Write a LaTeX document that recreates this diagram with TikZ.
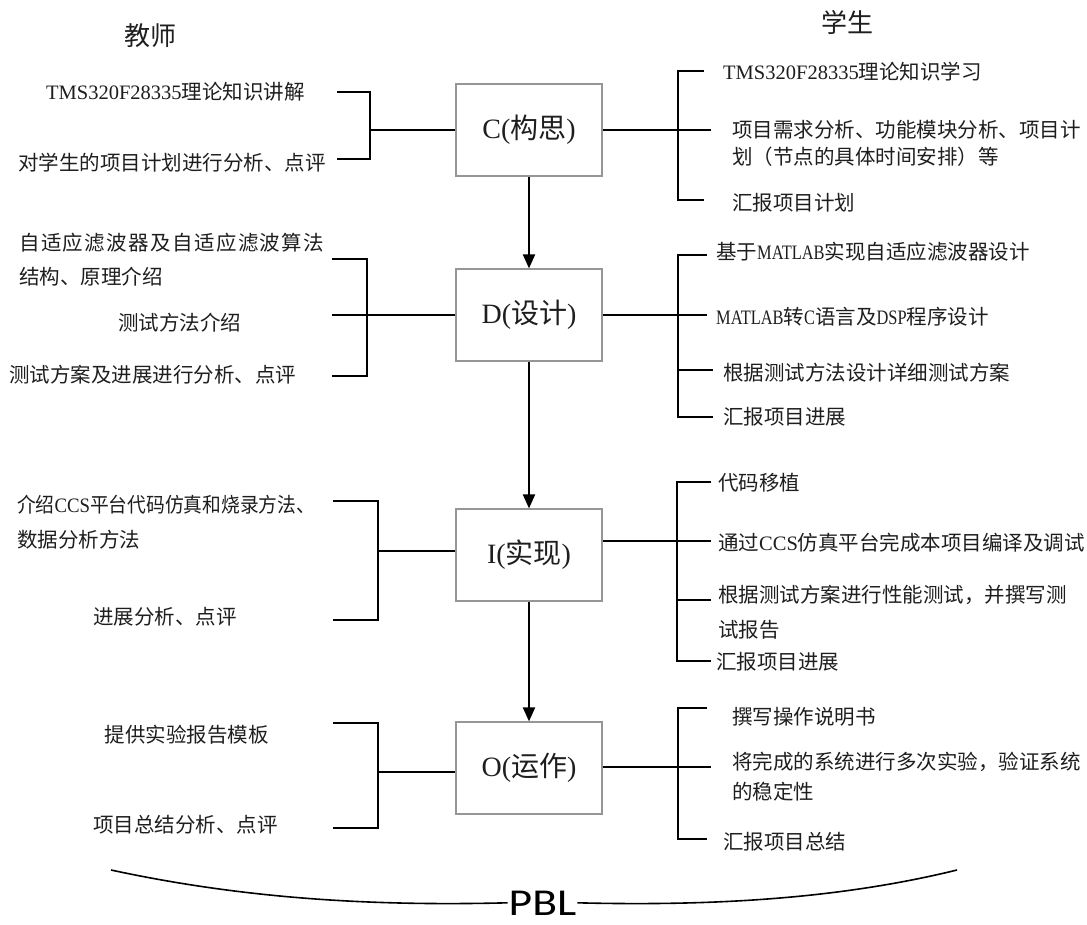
\documentclass[tikz,border=0pt]{standalone}
\usepackage{fontspec}
\usepackage{graphicx}
\setmainfont{Liberation Serif}
\newfontfamily\cjkfont{Noto Sans CJK SC}
\newfontfamily\pblfont{Carlito}
\usetikzlibrary{arrows.meta}
\newcommand\latn[1]{{\rmfamily #1}}
\newcommand\latc[1]{\scalebox{0.8}[1]{\rmfamily #1}}
\definecolor{boxgray}{RGB}{150,150,150}
\definecolor{ink}{RGB}{30,30,30}
\tikzset{
  txt/.style={font=\cjkfont\fontsize{20.5}{27}\selectfont, text=ink, inner sep=0pt, anchor=west, align=left},
  title/.style={font=\cjkfont\fontsize{26}{30}\selectfont, text=ink, inner sep=0pt},
  stage/.style={draw=boxgray, line width=1.2pt, fill=white, minimum width=146pt, minimum height=92pt, inner sep=0pt, font=\cjkfont\fontsize{28}{30}\selectfont, text=ink},
  br/.style={line width=2pt, black},
  arr/.style={line width=2pt, black, -{Triangle[width=12pt,length=14pt]}},
  crv/.style={line width=1.6pt, black}
}
\begin{document}
\begin{tikzpicture}[x=1pt,y=-1pt]
\useasboundingbox[fill=white] (0,0) rectangle (1087,925);

% titles
\node[title] (tch) at (150,36) {教师};
\node[title] (stu) at (847,22) {学生};

% stage boxes
\node[stage] (C) at (529,130) {\latn{C(}构思\latn{)}};
\node[stage] (D) at (529,315) {\latn{D(}设计\latn{)}};
\node[stage] (I) at (529,555) {\latn{I(}实现\latn{)}};
\node[stage] (O) at (529,768) {\latn{O(}运作\latn{)}};

\draw[arr] (C) -- (D);
\draw[arr] (D) -- (I);
\draw[arr] (I) -- (O);

% ---------- left (teacher) texts ----------
\node[txt] (l11) at (46,92) {\latn{TMS320F28335}理论知识讲解};
\node[txt] (l12) at (18,163) {对学生的项目计划进行分析、点评};

\node[txt, font=\cjkfont\fontsize{20.5}{34}\selectfont] (l21) at (19,260)
  {\makebox[305pt][s]{自\hfill 适\hfill 应\hfill 滤\hfill 波\hfill 器\hfill 及\hfill 自\hfill 适\hfill 应\hfill 滤\hfill 波\hfill 算\hfill 法}\\结构、原理介绍};
\node[txt] (l22) at (118,323) {测试方法介绍};
\node[txt] (l23) at (9,375) {测试方案及进展进行分析、点评};

\node[txt, font=\cjkfont\fontsize{20.5}{35}\selectfont] (l31) at (17,522.5)
  {\scalebox{0.915}[1]{介绍\latn{CCS}平台代码仿真和烧录方法、}\\数据分析方法};
\node[txt] (l32) at (93,617) {进展分析、点评};

\node[txt] (l41) at (104.5,735) {提供实验报告模板};
\node[txt] (l42) at (93,825) {项目总结分析、点评};

% ---------- right (student) texts ----------
\node[txt] (r11) at (723,72) {\latn{TMS320F28335}理论知识学习};
\node[txt] (r12) at (732,143.5) {项目需求分析、功能模块分析、项目计\\划（节点的具体时间安排）等};
\node[txt] (r13) at (732,203) {汇报项目计划};

\node[txt] (r21) at (716,252) {基于\latc{MATLAB}实现自适应滤波器设计};
\node[txt] (r22) at (716,317) {\latc{MATLAB}转\latc{C}语言及\latc{DSP}程序设计};
\node[txt] (r23) at (723,373) {根据测试方法设计详细测试方案};
\node[txt] (r24) at (723,417) {汇报项目进展};

\node[txt] (r31) at (718,483) {代码移植};
\node[txt] (r32) at (718,543) {通过\latn{CCS}仿真平台完成本项目编译及调试};
\node[txt, font=\cjkfont\fontsize{20.5}{35}\selectfont] (r33) at (718,612.5) {根据测试方案进行性能测试，并撰写测\\试报告};
\node[txt] (r34) at (716,662) {汇报项目进展};

\node[txt] (r41) at (732,717) {撰写操作说明书};
\node[txt, font=\cjkfont\fontsize{20.5}{30}\selectfont] (r42) at (732,777) {将完成的系统进行多次实验，验证系统\\的稳定性};
\node[txt] (r43) at (723,842) {汇报项目总结};

% ---------- brackets: C ----------
\coordinate (cla) at (337,92);  \coordinate (clb) at (370,92);
\coordinate (clc) at (370,159); \coordinate (cld) at (337,159);
\coordinate (clm) at (370,130);
\draw[br] (cla) -- (clb) -- (clc) -- (cld);
\draw[br] (clm) -- (C.west |- clm);
\coordinate (cra) at (704,71);  \coordinate (crb) at (678,71);
\coordinate (crc) at (678,200); \coordinate (crd) at (704,200);
\coordinate (crm) at (711,130);
\draw[br] (cra) -- (crb) -- (crc) -- (crd);
\draw[br] (C.east |- crm) -- (crm);

% ---------- brackets: D ----------
\coordinate (dla) at (332,259); \coordinate (dlb) at (367,259);
\coordinate (dlc) at (367,376); \coordinate (dld) at (332,376);
\coordinate (dlm) at (332,315);
\draw[br] (dla) -- (dlb) -- (dlc) -- (dld);
\draw[br] (dlm) -- (D.west |- dlm);
\coordinate (dra) at (707,255); \coordinate (drb) at (678,255);
\coordinate (drc) at (678,417); \coordinate (drd) at (713,417);
\coordinate (drt) at (678,370); \coordinate (drt2) at (713,370);
\coordinate (drm) at (707,315);
\draw[br] (dra) -- (drb) -- (drc) -- (drd);
\draw[br] (drt) -- (drt2);
\draw[br] (D.east |- drm) -- (drm);

% ---------- brackets: I ----------
\coordinate (ila) at (333,501); \coordinate (ilb) at (378,501);
\coordinate (ilc) at (378,620); \coordinate (ild) at (333,620);
\coordinate (ilm) at (378,551);
\draw[br] (ila) -- (ilb) -- (ilc) -- (ild);
\draw[br] (ilm) -- (I.west |- ilm);
\coordinate (ira) at (711,482); \coordinate (irb) at (677,482);
\coordinate (irc) at (677,661); \coordinate (ird) at (711,661);
\coordinate (irt) at (677,600); \coordinate (irt2) at (711,600);
\coordinate (irm) at (711,541);
\draw[br] (ira) -- (irb) -- (irc) -- (ird);
\draw[br] (irt) -- (irt2);
\draw[br] (I.east |- irm) -- (irm);

% ---------- brackets: O ----------
\coordinate (ola) at (333,723); \coordinate (olb) at (378,723);
\coordinate (olc) at (378,828); \coordinate (old) at (333,828);
\coordinate (olm) at (378,772);
\draw[br] (ola) -- (olb) -- (olc) -- (old);
\draw[br] (olm) -- (O.west |- olm);
\coordinate (ora) at (707,708); \coordinate (orb) at (678,708);
\coordinate (orc) at (678,839); \coordinate (ord) at (707,839);
\coordinate (orm) at (711,767);
\draw[br] (ora) -- (orb) -- (orc) -- (ord);
\draw[br] (O.east |- orm) -- (orm);

% ---------- PBL brace ----------
\node[font=\pblfont\fontsize{38}{40}\selectfont, text=black, inner sep=1pt, anchor=base] (pbl) at (542.5,915) {\scalebox{1.2}[1]{PBL}};
\coordinate (bl) at (111,870);
\coordinate (brr) at (957,870);
\draw[crv] (bl) .. controls (250,900) and (380,906) .. (pbl.west);
\draw[crv] (pbl.east) .. controls (705,906) and (835,900) .. (brr);
\end{tikzpicture}
\end{document}
